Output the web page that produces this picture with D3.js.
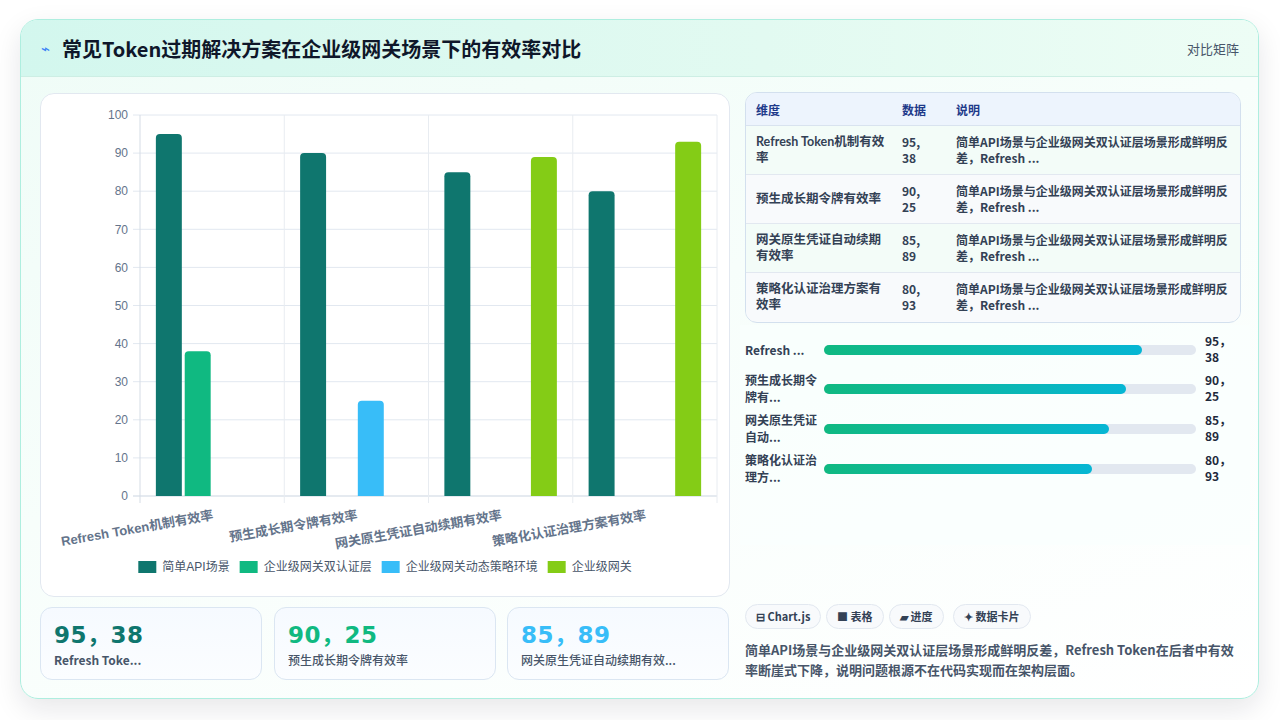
<!DOCTYPE html>
<html>
<head>
<meta charset="utf-8">
<script src="https://cdn.jsdelivr.net/npm/d3@7/dist/d3.min.js"></script>
<style>
  html, body { margin: 0; padding: 0; width: 1280px; height: 720px; background: #ffffff; overflow: hidden; }
  body { font-family: "Noto Sans CJK SC", "Noto Sans", sans-serif; }
  #card { position: absolute; left: 20px; top: 19px; width: 1239px; height: 680px; border: 1px solid #aeeedf; border-radius: 18px;
    box-sizing: border-box; overflow: hidden; box-shadow: 0 10px 28px rgba(15, 23, 42, 0.10);
    background: linear-gradient(160deg, #effcf7 0%, #f7fefb 45%, #ffffff 100%); }
  #header { position: absolute; left: 0; top: 0; width: 100%; height: 57px; box-sizing: border-box;
    background: linear-gradient(90deg, #d3f7ee 0%, #e2faf1 60%, #edfdf5 100%); border-bottom: 1px solid #cdeee4; }
  #title { position: absolute; left: 41px; top: 14px; font-size: 20px; font-weight: 700; color: #0f172a; letter-spacing: 0px; }
  #icon { position: absolute; left: 20px; top: 17px; font-size: 15px; color: #3b82f6; }
  #tag { position: absolute; right: 19px; top: 19px; font-size: 13px; color: #475569; }
  #chartCard { position: absolute; left: 19px; top: 73px; width: 690px; height: 504px; box-sizing: border-box; background: #ffffff;
    border: 1px solid #e2e8f0; border-radius: 14px; }
  #chartCard svg { position: absolute; left: -1px; top: -1px; }
  .kpi { position: absolute; top: 587px; height: 73px; width: 222px; box-sizing: border-box; border: 1px solid #dbe6f2; border-radius: 12px;
    background: linear-gradient(180deg, #f6faff 0%, #fbfdff 100%); }
  .kpi .v { position: absolute; left: 13px; top: 8px; font-family: "DejaVu Sans", "Noto Sans CJK SC", sans-serif; font-weight: 700; font-size: 23px; letter-spacing: 0.5px; }
  .kpi .l { position: absolute; left: 13px; top: 43px; font-size: 12px; color: #475569; font-weight: 500; white-space: nowrap; }
  #tableWrap { position: absolute; left: 724px; top: 72px; width: 496px; height: 231px; box-sizing: border-box; border: 1px solid #d3e0ee;
    border-radius: 12px; overflow: hidden; background: #f9fbfd; }
  table { border-collapse: collapse; table-layout: fixed; width: 100%; font-size: 12px; }
  th { text-align: left; font-weight: 700; color: #1e3a8a; background: #edf4fd; height: 32px; padding: 0 10px; border-bottom: 1px solid #d9e3ef; }
  td { color: #334155; font-weight: 600; padding: 0 10px; height: 48px; line-height: 16.5px; border-bottom: 1px solid #e2e8f0; vertical-align: middle; }
  td.first { padding-right: 5px; font-weight: 700; font-size: 12.5px; font-family: "Lato", "Noto Sans CJK SC", sans-serif; }
  tr.odd td { background: #f3fcf8; }
  tr.even td { background: #f8fafc; }
  tr:last-child td { border-bottom: none; }
  #progArea { position: absolute; left: 719px; top: 305px; width: 510px; height: 220px; background: rgba(250, 255, 253, 0.7); }
  .prow { position: absolute; left: 5px; width: 500px; height: 40px; }
  .plabel { position: absolute; left: 0; width: 76px; font-size: 12px; font-weight: 700; color: #334155; line-height: 16.5px; }
  .ptrack { position: absolute; left: 79px; width: 372px; height: 10px; border-radius: 5px; background: #e2e8f0; }
  .pfill { position: absolute; left: 0; top: 0; height: 10px; border-radius: 5px; background: linear-gradient(90deg, #10b981 0%, #06b6d4 100%); }
  .pval { position: absolute; left: 460px; font-size: 12px; font-weight: 700; color: #1e293b; line-height: 16px; }
  .chip { position: absolute; top: 584px; height: 25px; box-sizing: border-box; border: 1px solid #e2e8f0; border-radius: 13px; background: #f8fafc;
    font-size: 11px; font-weight: 700; color: #334155; line-height: 23px; padding: 0 10px; white-space: nowrap; }
  #summary { position: absolute; left: 724px; top: 620px; width: 492px; font-size: 13px; font-weight: 600; color: #475569; line-height: 20px; }
</style>
</head>
<body>
<div id="card">
  <div id="header">
    <div id="icon">⌁</div>
    <div id="title"></div>
    <div id="tag">对比矩阵</div>
  </div>
  <div id="chartCard"></div>
  <div id="kpis"></div>
  <div id="tableWrap"></div>
  <div id="progArea"></div>
  <div id="chips"></div>
  <div id="summary"></div>
</div>
<script>
// ---- data ----
var titleText = "常见Token过期解决方案在企业级网关场景下的有效率对比";
var categories = ["Refresh Token机制有效率", "预生成长期令牌有效率", "网关原生凭证自动续期有效率", "策略化认证治理方案有效率"];
var seriesNames = ["简单API场景", "企业级网关双认证层", "企业级网关动态策略环境", "企业级网关"];
var seriesColors = ["#0f766e", "#10b981", "#38bdf8", "#84cc16"];
var simpleApi = [95, 90, 85, 80];
var dualAuth = [38, null, null, null];
var dynamicPolicy = [null, 25, null, null];
var gateway = [null, null, 89, 93];
var yTicks = [0, 10, 20, 30, 40, 50, 60, 70, 80, 90, 100];
var pairText = ["95，38", "90，25", "85，89", "80，93"];
var kpiLabels = ["Refresh Toke...", "预生成长期令牌有效率", "网关原生凭证自动续期有效..."];
var kpiColors = ["#0f766e", "#10b981", "#38bdf8"];
var progLabels = ["Refresh ...", "预生成长期令牌有...", "网关原生凭证自动...", "策略化认证治理方..."];
var descText = "简单API场景与企业级网关双认证层场景形成鲜明反差，Refresh ...";
var chipLabels = ["⊟ Chart.js", "■ 表格", "▰ 进度", "✦ 数据卡片"];
var summaryText = "简单API场景与企业级网关双认证层场景形成鲜明反差，Refresh Token在后者中有效率断崖式下降，说明问题根源不在代码实现而在架构层面。";

var seriesData = [simpleApi, dualAuth, dynamicPolicy, gateway];

d3.select("#title").text(titleText);

// ---- bar chart ----
var W = 690, H = 504;
var margin = {left: 100, right: 13, top: 22, bottom: 101};
var pw = W - margin.left - margin.right, ph = H - margin.top - margin.bottom;

var svg = d3.select("#chartCard").append("svg").attr("width", W).attr("height", H);
var g = svg.append("g").attr("transform", "translate(" + margin.left + "," + margin.top + ")");

var x0 = d3.scaleBand().domain(categories).range([0, pw]);
var x1 = d3.scaleBand().domain(seriesNames)
  .range([x0.bandwidth() * 0.1, x0.bandwidth() * 0.9]).paddingInner(0.1).paddingOuter(0.05);
var y = d3.scaleLinear().domain([0, 100]).range([ph, 0]);

// horizontal grid + ticks
g.selectAll("line.hgrid").data(yTicks).enter().append("line")
  .attr("x1", -7).attr("x2", pw)
  .attr("y1", function(d) { return y(d); }).attr("y2", function(d) { return y(d); })
  .attr("stroke", function(d) { return d === 0 ? "#cbd5e1" : "#e2e8f0"; }).attr("stroke-width", 1);
// vertical grid
var vx = categories.map(function(c) { return x0(c); }).concat([pw]);
g.selectAll("line.vgrid").data(vx).enter().append("line")
  .attr("x1", function(d) { return d; }).attr("x2", function(d) { return d; })
  .attr("y1", 0).attr("y2", ph + 7)
  .attr("stroke", function(d, i) { return i === 0 ? "#d5dce5" : "#e8ecf1"; }).attr("stroke-width", 1);

g.selectAll("text.ytick").data(yTicks).enter().append("text")
  .attr("x", -12).attr("y", function(d) { return y(d); }).attr("dy", "0.35em")
  .attr("text-anchor", "end").attr("fill", "#64748b")
  .style("font-family", "'Liberation Sans', Arial, sans-serif").style("font-size", "12px")
  .text(function(d) { return d; });

function topRounded(xp, yp, w, h, r) {
  r = Math.min(r, h, w / 2);
  return "M" + xp + "," + (yp + h) + "V" + (yp + r) + "Q" + xp + "," + yp + " " + (xp + r) + "," + yp +
    "H" + (xp + w - r) + "Q" + (xp + w) + "," + yp + " " + (xp + w) + "," + (yp + r) + "V" + (yp + h) + "Z";
}

seriesData.forEach(function(vals, si) {
  var pts = categories.map(function(c, i) { return {c: c, v: vals[i]}; }).filter(function(d) { return d.v != null; });
  g.selectAll("path.s" + si).data(pts).enter().append("path")
    .attr("fill", seriesColors[si])
    .attr("d", function(d) {
      var bx = x0(d.c) + x1(seriesNames[si]);
      return topRounded(bx, y(d.v), x1.bandwidth(), ph - y(d.v), 4);
    });
});

// x labels (rotated)
g.selectAll("text.xlab").data(categories).enter().append("text")
  .attr("transform", function(d) { return "translate(" + (x0(d) + x0.bandwidth() / 2) + "," + (ph + 13) + ") rotate(-10)"; })
  .attr("text-anchor", "end").attr("dy", "0.8em").attr("fill", "#64748b")
  .style("font-family", "'Liberation Sans', Arial, 'Noto Sans CJK SC', sans-serif")
  .style("font-size", "13px").style("font-weight", "700")
  .text(function(d) { return d; });

// legend
var legend = svg.append("g");
var lx = 0;
var items = legend.selectAll("g").data(seriesNames).enter().append("g");
items.append("rect").attr("width", 18).attr("height", 12).attr("y", -6)
  .attr("fill", function(d, i) { return seriesColors[i]; });
items.append("text").attr("x", 24).attr("dy", "0.35em").attr("fill", "#475569")
  .style("font-family", "'Liberation Sans', Arial, 'Noto Sans CJK SC', sans-serif").style("font-size", "12px")
  .text(function(d) { return d; });
items.each(function() {
  var wdt = this.getBBox().width;
  d3.select(this).attr("transform", "translate(" + lx + ",0)");
  lx += wdt + 10;
});
lx -= 10;
legend.attr("transform", "translate(" + (W / 2 - lx / 2) + "," + 474 + ")");

// ---- KPI cards ----
var kpiLeft = [19, 253, 486];
var kpi = d3.select("#kpis").selectAll("div.kpi").data(kpiLabels).enter().append("div")
  .attr("class", "kpi").style("left", function(d, i) { return kpiLeft[i] + "px"; });
kpi.append("div").attr("class", "v").style("color", function(d, i) { return kpiColors[i]; })
  .text(function(d, i) { return pairText[i]; });
kpi.append("div").attr("class", "l").style("font-weight", function(d, i) { return i === 0 ? 700 : 500; })
  .text(function(d) { return d; });

// ---- table ----
var table = d3.select("#tableWrap").append("table");
var cg = table.append("colgroup");
[146, 54, 296].forEach(function(w) { cg.append("col").style("width", w + "px"); });
table.append("thead").append("tr").selectAll("th").data(["维度", "数据", "说明"]).enter().append("th").text(function(d) { return d; });
var rows = table.append("tbody").selectAll("tr").data(categories).enter().append("tr")
  .attr("class", function(d, i) { return i % 2 === 0 ? "odd" : "even"; });
rows.append("td").attr("class", "first").text(function(d) { return d; });
rows.append("td").text(function(d, i) { return pairText[i].replace("，", ", "); });
rows.append("td").text(descText);

// ---- progress ----
var px = d3.scaleLinear().domain([0, 111]).range([0, 372]);
var rowCenters = [25, 64, 104, 144];
var prow = d3.select("#progArea").selectAll("div.prow").data(simpleApi).enter().append("div")
  .attr("class", "prow").style("top", function(d, i) { return (rowCenters[i] - 20) + "px"; });
prow.append("div").attr("class", "plabel")
  .style("top", function(d, i) { return i === 0 ? "12px" : "3px"; })
  .text(function(d, i) { return progLabels[i]; });
prow.append("div").attr("class", "ptrack").style("top", "15px")
  .append("div").attr("class", "pfill").style("width", function(d) { return px(d) + "px"; });
prow.append("div").attr("class", "pval").style("top", "3px")
  .html(function(d, i) { var p = pairText[i].split("，"); return p[0] + "，<br>" + p[1]; });

// ---- chips ----
var chipLeft = [724, 805, 868, 932];
d3.select("#chips").selectAll("div.chip").data(chipLabels).enter().append("div")
  .attr("class", "chip").style("left", function(d, i) { return chipLeft[i] + "px"; })
  .text(function(d) { return d; });

d3.select("#summary").text(summaryText);
</script>
</body>
</html>
